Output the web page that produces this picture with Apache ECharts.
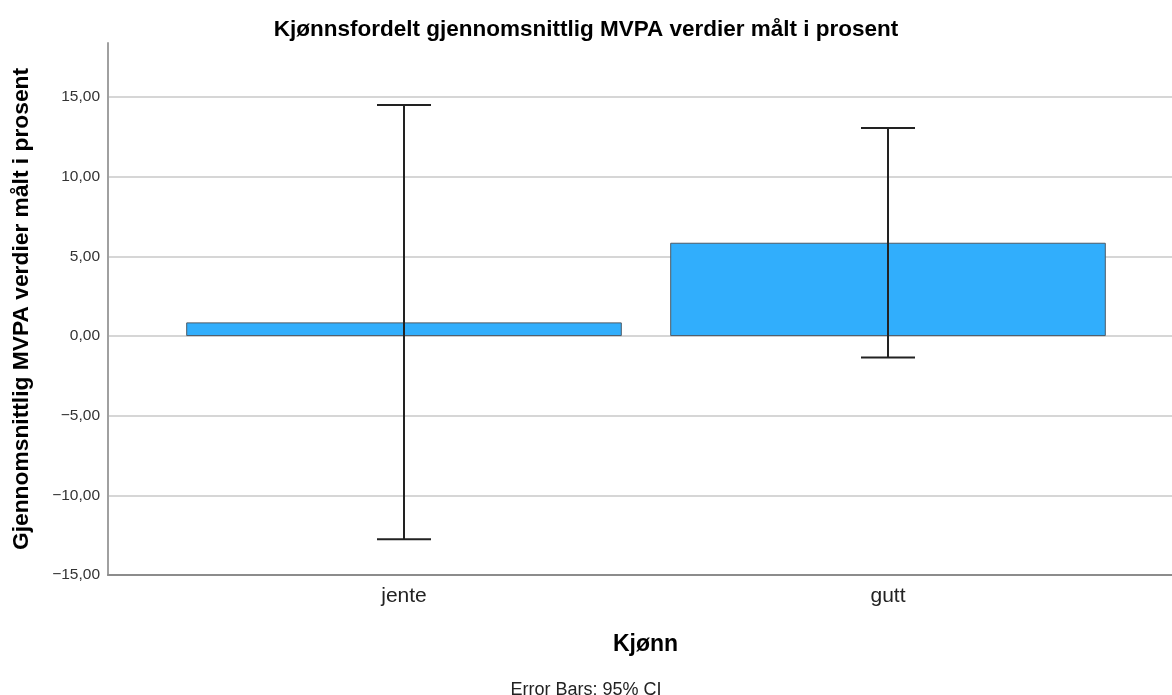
<!DOCTYPE html>
<html>
<head>
<meta charset="utf-8">
<script src="https://cdn.jsdelivr.net/npm/echarts@6/dist/echarts.min.js"></script>
<style>
html,body{margin:0;padding:0;background:#fff;}
#chart{width:1172px;height:695px;}
</style>
</head>
<body>
<div id="chart"></div>
<script>
// ---- data ----
const categories = ['jente', 'gutt'];
const means = [0.86, 5.86];
const ciLower = [-12.76, -1.34];
const ciUpper = [14.5, 13.06];
const yTicks = [-15, -10, -5, 0, 5, 10, 15];

const chartTitle = 'Kjønnsfordelt gjennomsnittlig MVPA verdier målt i prosent';
const yTitle = 'Gjennomsnittlig MVPA verdier målt i prosent';
const xTitle = 'Kjønn';
const footnote = 'Error Bars: 95% CI';

const FONT = "'Liberation Sans', Arial, sans-serif";
const errData = categories.map((c, i) => [i, ciLower[i], ciUpper[i]]);

function fmt(v) {
  const s = Math.abs(v).toFixed(2).replace('.', ',');
  return v < 0 ? '\u2212' + s : s;
}

const chart = echarts.init(document.getElementById('chart'), null, {renderer: 'canvas'});
const yMin = -15, yMax = 18.4;

chart.setOption({
  animation: false,
  backgroundColor: '#ffffff',
  title: [
    {text: chartTitle, left: 'center', top: 13, padding: [5, 0, 5, 18],
     textStyle: {fontFamily: FONT, fontSize: 22.5, fontWeight: 'bold', color: '#000'}},
    {text: footnote, left: 'center', top: 676, padding: [5, 0, 5, 18],
     textStyle: {fontFamily: FONT, fontSize: 18, fontWeight: 'normal', color: '#222'}}
  ],
  grid: [
    {left: 108, right: 0, top: 43, bottom: 120},
    {left: 162, width: 968, top: 43, bottom: 120}
  ],
  xAxis: [
    {type: 'value', gridIndex: 0, min: 0, max: 1,
     name: xTitle, nameLocation: 'middle', nameGap: 58,
     nameTextStyle: {fontFamily: FONT, fontSize: 23, fontWeight: 'bold', color: '#000', padding: [0, 0, 0, 11]},
     axisLine: {show: true, onZero: false, lineStyle: {color: '#8c8c8c', width: 2}},
     axisTick: {show: false}, axisLabel: {show: false}, splitLine: {show: false}},
    {type: 'category', gridIndex: 1, data: categories,
     axisLine: {show: false}, axisTick: {show: false}, splitLine: {show: false},
     axisLabel: {fontFamily: FONT, fontSize: 21, color: '#222', margin: 11}}
  ],
  yAxis: [
    {type: 'value', gridIndex: 0, min: yMin, max: yMax, interval: 5,
     name: yTitle, nameLocation: 'middle', nameGap: 75, nameRotate: 90,
     nameTextStyle: {fontFamily: FONT, fontSize: 22.8, fontWeight: 'bold', color: '#000'},
     axisLine: {show: true, onZero: false, lineStyle: {color: '#a0a0a0', width: 2}},
     axisTick: {show: false},
     axisLabel: {fontFamily: FONT, fontSize: 15.5, color: '#333', margin: 8,
                 showMaxLabel: false,
                 formatter: v => (yTicks.indexOf(v) >= 0 ? fmt(v) : '')},
     splitLine: {show: true, showMaxLine: false, lineStyle: {color: '#c8c8c8', width: 1.5}}},
    {type: 'value', gridIndex: 1, min: yMin, max: yMax, interval: 5, show: false,
     splitLine: {show: false}}
  ],
  series: [
    {type: 'bar', xAxisIndex: 1, yAxisIndex: 1, data: means, barCategoryGap: '10%',
     itemStyle: {color: '#31aefc', borderColor: '#4d5a66', borderWidth: 1}, z: 2},
    {type: 'custom', xAxisIndex: 1, yAxisIndex: 1, data: errData, z: 5,
     renderItem: function (params, api) {
       const x = api.value(0);
       const lo = api.coord([x, api.value(1)]);
       const hi = api.coord([x, api.value(2)]);
       const hw = 27;
       const style = {stroke: '#222', lineWidth: 2};
       return {type: 'group', children: [
         {type: 'line', shape: {x1: lo[0], y1: lo[1], x2: hi[0], y2: hi[1]}, style: style},
         {type: 'line', shape: {x1: hi[0] - hw, y1: hi[1], x2: hi[0] + hw, y2: hi[1]}, style: style},
         {type: 'line', shape: {x1: lo[0] - hw, y1: lo[1], x2: lo[0] + hw, y2: lo[1]}, style: style}
       ]};
     }}
  ]
});
</script>
</body>
</html>
